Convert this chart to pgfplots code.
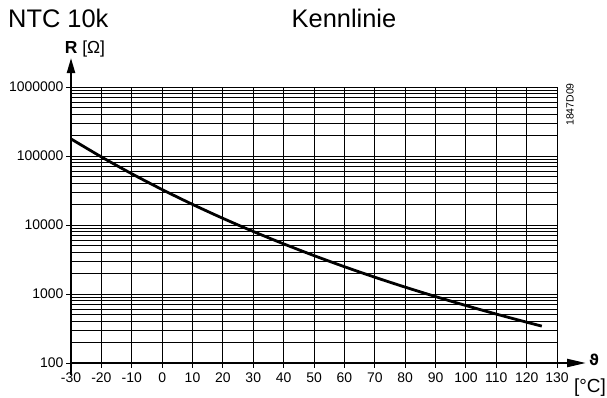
\documentclass[border=0pt]{standalone}
\usepackage{pgfplots}
\pgfplotsset{compat=1.18}
\usepackage{fontspec}
\setmainfont{Liberation Sans}
\newfontfamily\dejavu{DejaVu Sans}
\usetikzlibrary{arrows.meta}

\begin{document}
\begin{tikzpicture}[x=1bp,y=1bp]
\useasboundingbox (0,0) rectangle (607,397);
\begin{axis}[
  at={(71bp,34bp)}, anchor=south west,
  scale only axis, width=486bp, height=276bp,
  xmin=-30, xmax=130,
  ymode=log, ymin=100, ymax=1000000,
  xtick={-30,-20,-10,0,10,20,30,40,50,60,70,80,90,100,110,120,130},
  xticklabels={-30,-20,-10,0,10,20,30,40,50,60,70,80,90,100,110,120,130},
  ytick={100,1000,10000,100000,1000000},
  yticklabels={100,1000,10000,100000,1000000},
  minor ytick={200,300,400,500,600,700,800,900,
    2000,3000,4000,5000,6000,7000,8000,9000,
    20000,30000,40000,50000,60000,70000,80000,90000,
    200000,300000,400000,500000,600000,700000,800000,900000},
  grid=both,
  major grid style={black, line width=1bp},
  minor grid style={black, line width=1bp},
  axis lines*=left,
  axis line style={black, line width=2.4bp},
  tick align=outside,
  major tick length=5bp,
  minor tick length=0bp,
  tick style={black, line width=1bp},
  ticklabel style={font=\fontsize{14}{14}\selectfont},
  xticklabel style={yshift=-1bp},
  yticklabel style={xshift=1bp},
  clip=false,
]
\addplot[black, line width=2.8bp, smooth] coordinates {
  (-30,177000) (-20,97070) (-10,55330) (0,32650) (10,19900) (20,12490)
  (30,8060) (40,5330) (50,3603) (60,2488) (70,1752) (80,1258)
  (90,918.8) (100,680.9) (110,511.9) (120,390.4) (125,342.5)
};
\end{axis}
% axis arrows
\draw[black, line width=2.2bp, -{Triangle[length=15bp,width=8bp]}] (71,22) -- (71,339);
\draw[black, line width=2.2bp, -{Triangle[length=19bp,width=8bp]}] (71,34) -- (586,34);
% texts
\node[anchor=base west, inner sep=0pt, font=\fontsize{25.5}{26}\selectfont] at (8,370) {NTC 10k};
\node[anchor=base, inner sep=0pt, font=\fontsize{25.5}{26}\selectfont] at (344,370) {Kennlinie};
\node[anchor=base, inner sep=0pt, font=\fontsize{17.5}{18}\selectfont] at (85,344) {\textbf{R} [Ω]};
\node[anchor=base, inner sep=0pt, font=\dejavu\bfseries\fontsize{15}{16}\selectfont] at (594,32) {ϑ};
\node[anchor=base, inner sep=0pt, font=\fontsize{19}{20}\selectfont] at (590,5) {[°C]};
\node[rotate=90, inner sep=0pt, font=\fontsize{10.5}{11}\selectfont] at (570,292.5) {1847D09};
\end{tikzpicture}
\end{document}
